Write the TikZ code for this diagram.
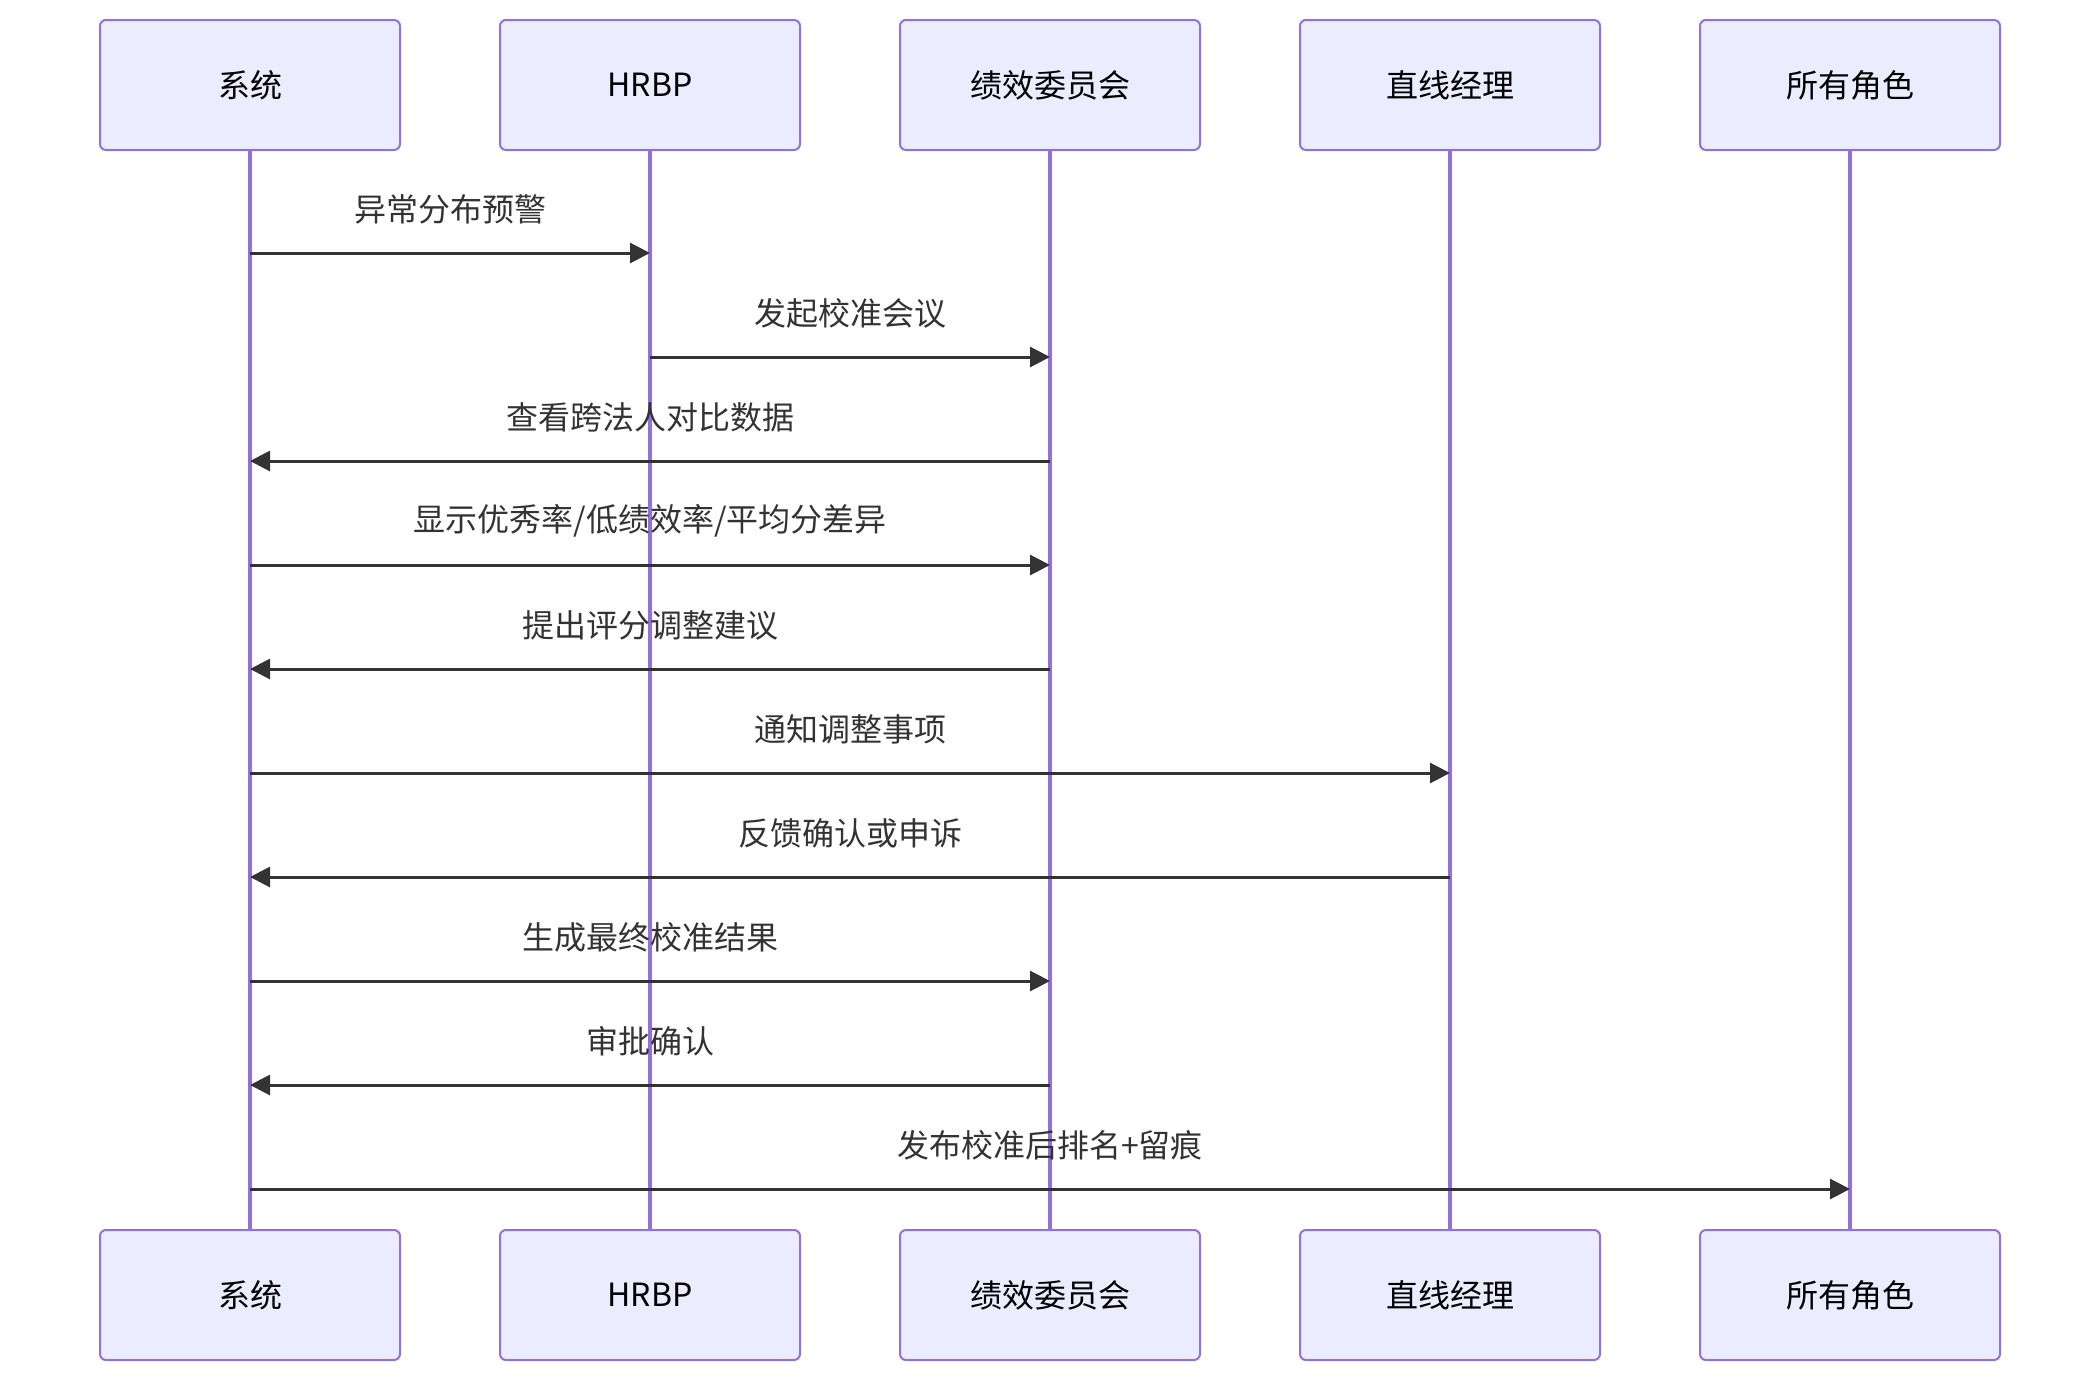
\documentclass[tikz,border=0pt]{standalone}
\usepackage{fontspec}
\setmainfont{Noto Sans CJK SC}
\usepackage{xcolor}
\usepackage{tikz}
\usetikzlibrary{arrows.meta,positioning,calc}

\definecolor{actfill}{HTML}{ECECFF}
\definecolor{actline}{HTML}{9370DB}
\definecolor{msgcol}{HTML}{333333}

\begin{document}
\begin{tikzpicture}[x=0.5pt,y=-0.5pt,>={Triangle[length=10pt,width=10pt]},
   font=\fontsize{16}{19}\selectfont,
   actor/.style={draw=actline,fill=actfill,line width=1pt,rounded corners=3pt,
     minimum width=150pt,minimum height=65pt,inner sep=0pt,text=black},
   life/.style={draw=actline,line width=1.6pt},
   msg/.style={->,draw=msgcol,line width=1.5pt},
   msglab/.style={midway,yshift=22pt,text=msgcol,inner sep=0pt}]
  \useasboundingbox (0,0) rectangle (2100,1382);
  % actors, top and bottom
  \foreach \nm/\xx/\txt in {sys/250/系统,hr/650/HRBP,cmt/1050/绩效委员会,mgr/1450/直线经理,all/1850/所有角色}{
    \node[actor] (\nm) at (\xx,85) {\txt};
    \node[actor] (\nm B) at (\xx,1295) {\txt};
    \draw[life] (\nm.south) -- (\nm B.north);
  }
  % message rows
  \foreach \i in {1,...,10}{
    \coordinate (m\i) at (0,{253+(\i-1)*104});
  }
  \draw[msg] (sys |- m1) -- (hr |- m1) node[msglab]{异常分布预警};
  \draw[msg] (hr |- m2) -- (cmt |- m2) node[msglab]{发起校准会议};
  \draw[msg] (cmt |- m3) -- (sys |- m3) node[msglab]{查看跨法人对比数据};
  \draw[msg] (sys |- m4) -- (cmt |- m4) node[msglab]{显示优秀率/低绩效率/平均分差异};
  \draw[msg] (cmt |- m5) -- (sys |- m5) node[msglab]{提出评分调整建议};
  \draw[msg] (sys |- m6) -- (mgr |- m6) node[msglab]{通知调整事项};
  \draw[msg] (mgr |- m7) -- (sys |- m7) node[msglab]{反馈确认或申诉};
  \draw[msg] (sys |- m8) -- (cmt |- m8) node[msglab]{生成最终校准结果};
  \draw[msg] (cmt |- m9) -- (sys |- m9) node[msglab]{审批确认};
  \draw[msg] (sys |- m10) -- (all |- m10) node[msglab]{发布校准后排名+留痕};
\end{tikzpicture}
\end{document}
